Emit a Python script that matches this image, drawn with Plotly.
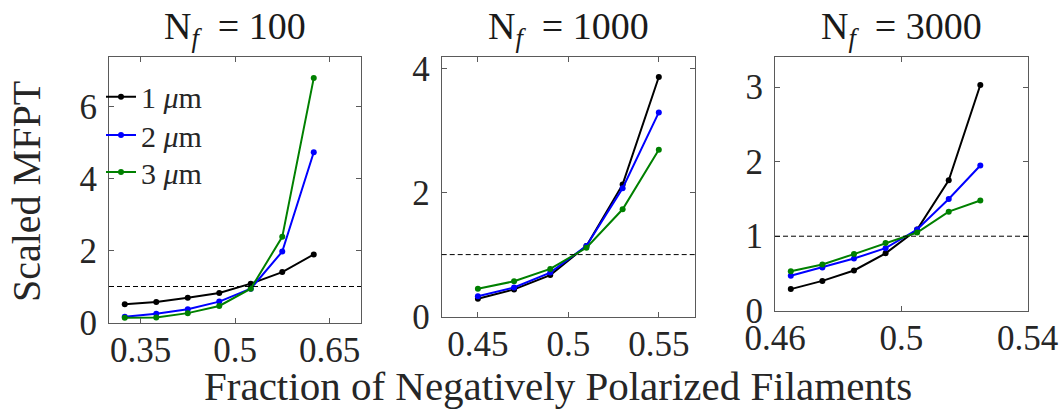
import plotly.graph_objects as go

# ---------------- data ----------------
x_100 = [0.325, 0.375, 0.425, 0.475, 0.525, 0.575, 0.625]
y_100_1um = [0.51, 0.57, 0.69, 0.82, 1.08, 1.40, 1.89]
y_100_2um = [0.16, 0.24, 0.37, 0.58, 0.94, 1.97, 4.73]
y_100_3um = [0.13, 0.14, 0.26, 0.46, 0.94, 2.38, 6.79]

x_1000 = [0.45, 0.47, 0.49, 0.51, 0.53, 0.55]
y_1000_1um = [0.29, 0.44, 0.67, 1.14, 2.13, 3.86]
y_1000_2um = [0.33, 0.47, 0.71, 1.14, 2.07, 3.29]
y_1000_3um = [0.45, 0.57, 0.77, 1.11, 1.73, 2.69]

x_3000 = [0.465, 0.475, 0.485, 0.495, 0.505, 0.515, 0.525]
y_3000_1um = [0.29, 0.40, 0.54, 0.77, 1.09, 1.75, 3.03]
y_3000_2um = [0.47, 0.58, 0.70, 0.84, 1.09, 1.50, 1.95]
y_3000_3um = [0.53, 0.62, 0.76, 0.91, 1.05, 1.33, 1.48]

series_names = ["1 <i>μ</i>m", "2 <i>μ</i>m", "3 <i>μ</i>m"]
panel_titles = ["N<sub><i>f</i></sub>&nbsp; = 100", "N<sub><i>f</i></sub>&nbsp; = 1000",
                "N<sub><i>f</i></sub>&nbsp; = 3000"]
x_ticks = [[0.35, 0.5, 0.65], [0.45, 0.5, 0.55], [0.46, 0.5, 0.54]]
x_ticktext = [["0.35", "0.5", "0.65"], ["0.45", "0.5", "0.55"], ["0.46", "0.5", "0.54"]]
y_ticks = [[0, 2, 4, 6], [0, 2, 4], [0, 1, 2, 3]]
x_ranges = [[0.30, 0.70], [0.43, 0.57], [0.46, 0.54]]
y_ranges = [[0, 7.39], [0, 4.19], [0, 3.41]]
reference_level = 1

# ---------------- layout helpers ----------------
W, H = 1064, 409
FONT = "Liberation Serif"
colors = ["#000000", "#0000ff", "#008000"]
AXC = "#5a5a5a"


def px(x):
    return x / W


def py(y):
    return 1 - y / H


# panel boxes in pixels: (left, right, top, bottom)
boxes = [(109, 361, 56.5, 322.5), (441.7, 695, 56.5, 316.7), (775, 1027.7, 56.7, 310.7)]

fig = go.Figure()

panels = [
    (x_100, [y_100_1um, y_100_2um, y_100_3um]),
    (x_1000, [y_1000_1um, y_1000_2um, y_1000_3um]),
    (x_3000, [y_3000_1um, y_3000_2um, y_3000_3um]),
]
legend_ids = ["legend", "legend2", "legend3"]

for i, (xs, ys) in enumerate(panels):
    xa = "x" if i == 0 else f"x{i+1}"
    ya = "y" if i == 0 else f"y{i+1}"
    for j, yv in enumerate(ys):
        fig.add_trace(go.Scatter(
            x=xs, y=yv, mode="lines+markers",
            line=dict(color=colors[j], width=2),
            marker=dict(color=colors[j], size=6),
            xaxis=xa, yaxis=ya, name=series_names[j],
            showlegend=(i == 0), legend=legend_ids[j],
        ))
    fig.add_shape(type="line", xref=f"{xa} domain", yref=ya,
                  x0=0, x1=1, y0=reference_level, y1=reference_level,
                  line=dict(color="black", width=1, dash="5px,3px"))

layout = dict(
    width=W, height=H,
    margin=dict(l=0, r=0, t=0, b=0, autoexpand=False),
    paper_bgcolor="white", plot_bgcolor="white",
    font=dict(family=FONT, color="#262626"),
    annotations=[],
)

for i in range(3):
    l, r, t, b = boxes[i]
    sfx = "" if i == 0 else str(i + 1)
    common = dict(showline=True, linecolor=AXC, linewidth=1, mirror="ticks",
                  ticks="inside", ticklen=5, tickcolor=AXC, tickwidth=1,
                  showgrid=False, zeroline=False, automargin=False,
                  tickfont=dict(family=FONT, size=35, color="#262626"))
    layout["xaxis" + sfx] = dict(common, domain=[px(l), px(r)], anchor="y" + sfx,
                                 range=x_ranges[i], tickvals=x_ticks[i],
                                 ticktext=x_ticktext[i], ticklabelstandoff=-4)
    layout["yaxis" + sfx] = dict(common, domain=[py(b), py(t)], anchor="x" + sfx,
                                 range=y_ranges[i], tickvals=y_ticks[i],
                                 ticklabelstandoff=4)
    layout["annotations"].append(dict(
        text=panel_titles[i], x=px((l + r) / 2), y=py(29), xref="paper", yref="paper",
        xanchor="center", yanchor="middle", showarrow=False,
        font=dict(family=FONT, size=38, color="#1a1a1a")))

layout["annotations"].append(dict(
    text="Scaled MFPT", x=px(27), y=py(192), xref="paper", yref="paper",
    xanchor="center", yanchor="middle", textangle=-90, showarrow=False,
    font=dict(family=FONT, size=40, color="#262626")))
layout["annotations"].append(dict(
    text="Fraction of Negatively Polarized Filaments", x=px(558), y=py(386),
    xref="paper", yref="paper", xanchor="center", yanchor="middle", showarrow=False,
    font=dict(family=FONT, size=41, color="#262626")))

legend_rows = [96.7, 135, 172]
for k, lid in enumerate(legend_ids):
    layout[lid] = dict(x=px(101), y=py(legend_rows[k]), xanchor="left", yanchor="middle",
                       bgcolor="rgba(0,0,0,0)", borderwidth=0,
                       font=dict(family=FONT, size=30, color="#262626"))

fig.update_layout(**layout)
fig.write_html("out.html")
